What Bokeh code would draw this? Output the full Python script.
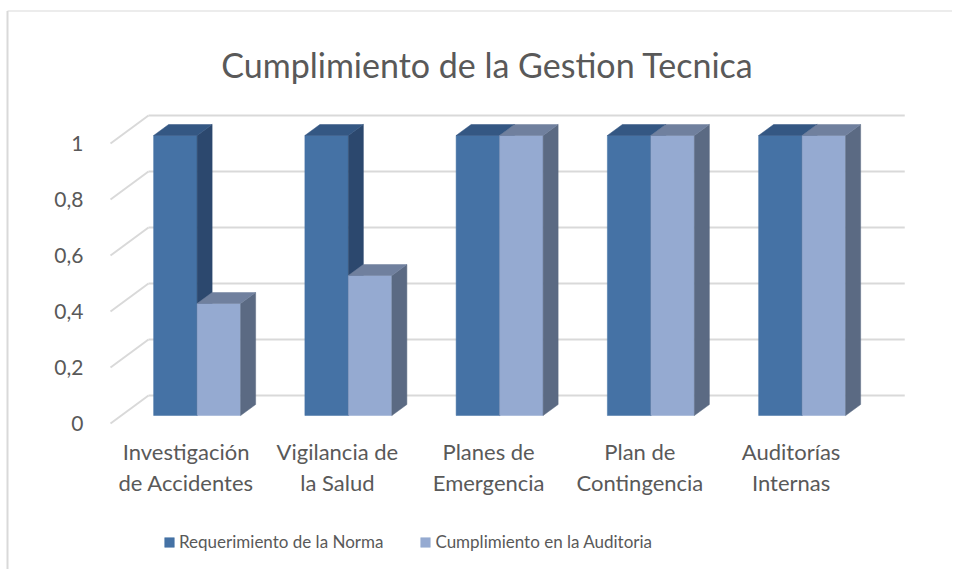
from bokeh.plotting import figure
from bokeh.models import Range1d, FixedTicker, Label, Legend, LegendItem
from bokeh.embed import file_html
from bokeh.resources import INLINE

# ---------------- data ----------------
chart_title = "Cumplimiento de la Gestion Tecnica"
categories = ["Investigación\nde Accidentes", "Vigilancia de\nla Salud",
              "Planes de\nEmergencia", "Plan de\nContingencia", "Auditorías\nInternas"]
series_names = ["Requerimiento de la Norma", "Cumplimiento en la Auditoria"]
requerimiento = [1, 1, 1, 1, 1]
cumplimiento = [0.4, 0.5, 1, 1, 1]
y_ticks = [0, 0.2, 0.4, 0.6, 0.8, 1]
y_tick_labels = ["0", "0,2", "0,4", "0,6", "0,8", "1"]

# ---------------- geometry / style (pixels) ----------------
FONT = "Lato"
TXT = "#595959"
GRID = "#d9d9d9"
W, H = 952, 569
X0, Y0 = 110, 423             # canvas px of the front-left origin (x=0, y=0)
PX_X = 151.25                 # px per category
PX_Y = 280.0                  # px per unit value
WALL_DX, WALL_DY = 38, 28     # 3D depth of the wall
BAR_FX, BAR_FY = 11, 8        # bar front face offset from front plane
BAR_DX, BAR_DY = 15, 11       # bar depth
BAR_W = 43.5                  # bar width px


def dx(px):  # canvas x px -> data x
    return (px - X0) / PX_X


def dy(py):  # canvas y px -> data y
    return (Y0 - py) / PX_Y


colors = {
    0: dict(front="#4572A5", side="#2C486E", top="#345783"),
    1: dict(front="#95AAD1", side="#5B6A83", top="#70809E"),
}

p = figure(width=W, height=H, output_backend="svg", toolbar_location=None,
           x_range=Range1d(dx(0), dx(W)), y_range=Range1d(dy(H), dy(0)),
           min_border=0)
p.title.visible = False
p.outline_line_color = None
p.xgrid.visible = False
p.ygrid.visible = False
p.background_fill_color = "white"
p.border_fill_color = "white"

# chart-area border (left and top edges, as in the cropped original)
p.segment(x0=[dx(7), dx(7)], y0=[dy(10.5), dy(10.5)], x1=[dx(7), dx(W)], y1=[dy(H), dy(10.5)],
          line_color=GRID, line_width=[2, 1.2])

wdx, wdy = WALL_DX / PX_X, WALL_DY / PX_Y
n = len(categories)

# back wall grid + side-wall diagonals
p.segment(x0=[wdx] * len(y_ticks), y0=[t + wdy for t in y_ticks],
          x1=[n + wdx] * len(y_ticks), y1=[t + wdy for t in y_ticks],
          line_color=GRID, line_width=2)
p.segment(x0=[0] * len(y_ticks), y0=y_ticks,
          x1=[wdx] * len(y_ticks), y1=[t + wdy for t in y_ticks],
          line_color=GRID, line_width=2)

# bars
fx, fy = BAR_FX / PX_X, BAR_FY / PX_Y
bdx, bdy = BAR_DX / PX_X, BAR_DY / PX_Y
bw = BAR_W / PX_X
front_renderers = []
for s, vals in enumerate([requerimiento, cumplimiento]):
    c = colors[s]
    lefts, rights, bottoms, tops = [], [], [], []
    side_xs, side_ys, top_xs, top_ys = [], [], [], []
    for i, v in enumerate(vals):
        xl = i + 0.5 + fx - bw + s * bw
        xr = xl + bw
        y0 = fy
        y1 = v + fy
        lefts.append(xl); rights.append(xr); bottoms.append(y0); tops.append(y1)
        side_xs.append([xr, xr + bdx, xr + bdx, xr])
        side_ys.append([y0, y0 + bdy, y1 + bdy, y1])
        top_xs.append([xl, xl + bdx, xr + bdx, xr])
        top_ys.append([y1, y1 + bdy, y1 + bdy, y1])
    r = p.quad(left=lefts, right=rights, bottom=bottoms, top=tops,
               fill_color=c["front"], line_color=c["front"], line_width=0.5)
    p.patches(xs=side_xs, ys=side_ys, fill_color=c["side"], line_color=c["side"], line_width=0.5)
    p.patches(xs=top_xs, ys=top_ys, fill_color=c["top"], line_color=c["top"], line_width=0.5)
    front_renderers.append(r)

# axes (placed at the front plane of the 3D box)
p.yaxis.fixed_location = 0
p.yaxis.ticker = FixedTicker(ticks=y_ticks)
p.yaxis.major_label_overrides = dict(zip(y_ticks, y_tick_labels))
p.yaxis.axis_line_color = None
p.yaxis.major_tick_line_color = None
p.yaxis.minor_tick_line_color = None
p.yaxis.major_label_standoff = 21
p.yaxis.major_label_text_font = FONT
p.yaxis.major_label_text_font_size = "21px"
p.yaxis.major_label_text_color = TXT

cat_pos = [i + 0.5 for i in range(n)]
p.xaxis.fixed_location = 0
p.xaxis.ticker = FixedTicker(ticks=cat_pos)
p.xaxis.major_label_overrides = dict(zip(cat_pos, categories))
p.xaxis.axis_line_color = None
p.xaxis.major_tick_line_color = None
p.xaxis.minor_tick_line_color = None
p.xaxis.major_label_standoff = 8
p.xaxis.major_label_text_font = FONT
p.xaxis.major_label_text_font_size = "22px"
p.xaxis.major_label_text_color = TXT
p.xaxis.major_label_text_line_height = 1.15

# title
p.add_layout(Label(x=dx(487), y=dy(64), text=chart_title, text_align="center",
                   text_baseline="alphabetic", text_font=FONT, text_font_size="34px",
                   text_color=TXT))

# legend
legend = Legend(items=[LegendItem(label=series_names[k], renderers=[front_renderers[k]])
                       for k in range(2)],
                location=(163, H - 552), orientation="horizontal",
                glyph_width=12, glyph_height=12, label_standoff=4, spacing=36,
                padding=0, margin=0, border_line_color=None, background_fill_alpha=0,
                label_text_font=FONT, label_text_font_size="17px", label_text_color=TXT,
                label_height=14)
p.add_layout(legend, "center")

open("out.html", "w").write(file_html(p, INLINE))
